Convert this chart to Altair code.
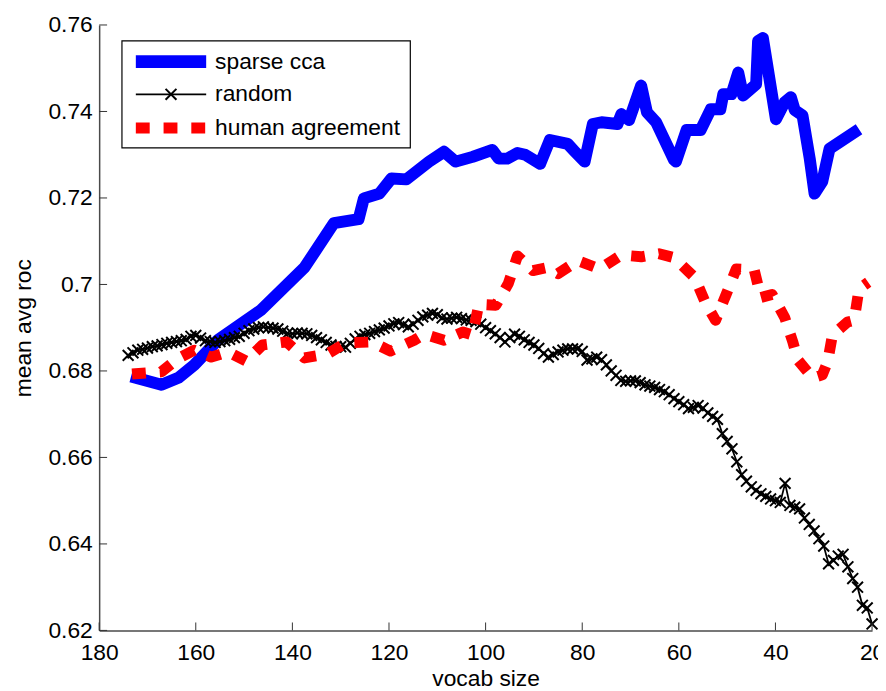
import altair as alt
import pandas as pd

# ---------------- data ----------------
series_names = ["sparse cca", "random", "human agreement"]

sparse_x = [173.4, 167.1, 163.6, 160.3, 155.4, 146.6, 137.5, 131.4, 126.3, 125.2,
            122.0, 119.5, 116.4, 111.7, 108.6, 106.2, 102.7, 98.6, 97.3, 95.5,
            93.4, 91.8, 88.7, 86.7, 83.0, 81.5, 79.5, 77.8, 76.0, 72.7,
            71.9, 70.3, 67.8, 66.6, 64.7, 61.0, 60.6, 58.4, 55.5, 53.4,
            51.4, 50.8, 49.1, 47.7, 46.7, 44.0, 43.6, 42.6, 39.9, 38.1,
            36.8, 36.0, 34.4, 32.9, 31.9, 30.3, 28.8, 22.7]
sparse_y = [0.6787, 0.6768, 0.6784, 0.6814, 0.6872, 0.6940, 0.7039, 0.7142, 0.7151, 0.7199,
            0.7210, 0.7245, 0.7243, 0.7284, 0.7307, 0.7284, 0.7295, 0.7311, 0.7291, 0.7291,
            0.7304, 0.7300, 0.7279, 0.7334, 0.7325, 0.7307, 0.7284, 0.7371, 0.7375, 0.7371,
            0.7394, 0.7380, 0.7460, 0.7398, 0.7375, 0.7288, 0.7284, 0.7357, 0.7357, 0.7405,
            0.7405, 0.7440, 0.7440, 0.7490, 0.7437, 0.7463, 0.7563, 0.7570, 0.7382, 0.7421,
            0.7433, 0.7403, 0.7391, 0.7291, 0.7210, 0.7238, 0.7314, 0.7359]

random_x = list(range(174, 19, -1))
random_y = [0.6836, 0.6842, 0.6848, 0.6850, 0.6853, 0.6856, 0.6858, 0.6861, 0.6864, 0.6866,
            0.6868, 0.6870, 0.6873, 0.6880, 0.6882, 0.6876, 0.6870, 0.6868, 0.6866, 0.6868,
            0.6870, 0.6873, 0.6877, 0.6880, 0.6887, 0.6893, 0.6897, 0.6900, 0.6902, 0.6900,
            0.6899, 0.6897, 0.6892, 0.6887, 0.6886, 0.6888, 0.6887, 0.6886, 0.6882, 0.6877,
            0.6872, 0.6866, 0.6860, 0.6857, 0.6856, 0.6855, 0.6864, 0.6874, 0.6880, 0.6884,
            0.6887, 0.6891, 0.6895, 0.6899, 0.6904, 0.6909, 0.6912, 0.6907, 0.6902, 0.6908,
            0.6917, 0.6925, 0.6929, 0.6933, 0.6930, 0.6923, 0.6920, 0.6922, 0.6924, 0.6921,
            0.6918, 0.6917, 0.6914, 0.6908, 0.6900, 0.6893, 0.6886, 0.6877, 0.6867, 0.6877,
            0.6885, 0.6880, 0.6872, 0.6866, 0.6860, 0.6852, 0.6840, 0.6832, 0.6838, 0.6844,
            0.6848, 0.6851, 0.6851, 0.6851, 0.6845, 0.6825, 0.6828, 0.6832, 0.6826, 0.6814,
            0.6800, 0.6790, 0.6778, 0.6776, 0.6777, 0.6777, 0.6773, 0.6768, 0.6765, 0.6762,
            0.6757, 0.6752, 0.6745, 0.6736, 0.6729, 0.6722, 0.6713, 0.6716, 0.6720, 0.6714,
            0.6703, 0.6695, 0.6688, 0.6655, 0.6637, 0.6620, 0.6590, 0.6560, 0.6545, 0.6532,
            0.6524, 0.6516, 0.6510, 0.6504, 0.6500, 0.6496, 0.6540, 0.6489, 0.6485, 0.6481,
            0.6460, 0.6445, 0.6430, 0.6412, 0.6395, 0.6354, 0.6362, 0.6372, 0.6376, 0.6347,
            0.6320, 0.6300, 0.6258, 0.6252, 0.6215]

human_x = [173.2, 167.1, 163.8, 160.3, 156.8, 153.3, 149.6, 146.2, 141.2, 137.5,
           132.8, 128.9, 123.6, 119.7, 114.8, 112.7, 108.6, 104.7, 102.7, 101.4,
           97.9, 95.3, 93.4, 90.2, 87.3, 85.0, 80.9, 76.4, 71.9, 67.8,
           64.1, 61.0, 56.7, 54.5, 52.4, 50.2, 48.1, 44.4, 43.0, 40.7,
           38.1, 36.4, 35.4, 32.3, 30.3, 29.2, 28.2, 25.1, 23.7, 22.7, 20.8]
human_y = [0.6793, 0.6798, 0.6828, 0.6848, 0.6832, 0.6844, 0.6823, 0.6860, 0.6867, 0.6830,
           0.6839, 0.6865, 0.6867, 0.6846, 0.6871, 0.6885, 0.6871, 0.6890, 0.6883, 0.6954,
           0.6952, 0.7002, 0.7066, 0.7032, 0.7039, 0.7025, 0.7055, 0.7036, 0.7068, 0.7064,
           0.7071, 0.7062, 0.7016, 0.6958, 0.6917, 0.6977, 0.7036, 0.7034, 0.6970, 0.6977,
           0.6924, 0.6867, 0.6826, 0.6784, 0.6791, 0.6821, 0.6883, 0.6913, 0.6917, 0.6990, 0.7005]

x_ticks = [180, 160, 140, 120, 100, 80, 60, 40, 20]
y_ticks = [0.62, 0.64, 0.66, 0.68, 0.70, 0.72, 0.74, 0.76]

x_title = "vocab size"
y_title = "mean avg roc"

# ---------------- tables ----------------
sparse_df = pd.DataFrame({"x": sparse_x, "y": sparse_y, "i": range(len(sparse_x))})
random_df = pd.DataFrame({"x": random_x, "y": random_y, "i": range(len(random_x))})
human_df = pd.DataFrame({"x": human_x, "y": human_y, "i": range(len(human_x))})
xt_df = pd.DataFrame({"v": x_ticks})
yt_df = pd.DataFrame({"v": y_ticks})

FONT = "Liberation Sans"
W, H = 780, 611
XMARK = "M-1,-1L1,1M-1,1L1,-1"

xs = alt.Scale(domain=[20, 180], reverse=True, nice=False, zero=False)
ys = alt.Scale(domain=[0.62, 0.76], nice=False, zero=False)

x_axis = alt.Axis(values=x_ticks, format="d", tickSize=0, labelPadding=11,
                  title=x_title, titlePadding=4, grid=False,
                  domainColor="#4a4a4a", domainWidth=1.5,
                  labelFont=FONT, labelFontSize=23, labelColor="#000000",
                  titleFont=FONT, titleFontSize=23, titleFontWeight="normal",
                  titleColor="#000000", labelFlush=False, labelOverlap=False)
y_axis = alt.Axis(values=y_ticks, format="~g", tickSize=0, labelPadding=7,
                  title=y_title, titlePadding=13, grid=False,
                  domainColor="#4a4a4a", domainWidth=1.5,
                  labelFont=FONT, labelFontSize=23, labelColor="#000000",
                  titleFont=FONT, titleFontSize=23, titleFontWeight="normal",
                  titleColor="#000000", labelFlush=False, labelOverlap=False)

blue = alt.Chart(sparse_df).mark_line(
    color="#0000ff", strokeWidth=12, strokeJoin="round", strokeCap="butt"
).encode(
    x=alt.X("x:Q", scale=xs, axis=x_axis),
    y=alt.Y("y:Q", scale=ys, axis=y_axis),
    order="i:Q",
)

black_line = alt.Chart(random_df).mark_line(color="#000000", strokeWidth=1.8).encode(
    x=alt.X("x:Q", scale=xs), y=alt.Y("y:Q", scale=ys), order="i:Q"
)
black_pts = alt.Chart(random_df).mark_point(
    shape=XMARK, size=120, filled=False, stroke="#000000", strokeWidth=2, opacity=1
).encode(x=alt.X("x:Q", scale=xs), y=alt.Y("y:Q", scale=ys))

red = alt.Chart(human_df).mark_line(
    color="#ff0000", strokeWidth=11, strokeDash=[14, 14], strokeJoin="round", strokeCap="butt"
).encode(x=alt.X("x:Q", scale=xs), y=alt.Y("y:Q", scale=ys), order="i:Q")

# inward ticks (MATLAB style)
xticks = alt.Chart(xt_df).mark_rule(color="#333333", strokeWidth=1).encode(
    x=alt.X("v:Q", scale=xs), y=alt.value(H), y2=alt.value(H - 8)
)
yticks = alt.Chart(yt_df).mark_rule(color="#333333", strokeWidth=1).encode(
    y=alt.Y("v:Q", scale=ys), x=alt.value(0), x2=alt.value(8)
)

# legend box
one = pd.DataFrame({"k": [0]})
leg_box = alt.Chart(one).mark_rect(fill="#ffffff", stroke="#000000", strokeWidth=1.2).encode(
    x=alt.value(23), x2=alt.value(314), y=alt.value(16), y2=alt.value(124)
)
leg_blue = alt.Chart(one).mark_rule(color="#0000ff", strokeWidth=13, strokeCap="butt").encode(
    x=alt.value(37), x2=alt.value(108), y=alt.value(37)
)
leg_black = alt.Chart(one).mark_rule(color="#000000", strokeWidth=1.8).encode(
    x=alt.value(37), x2=alt.value(108), y=alt.value(70)
)
leg_black_pt = alt.Chart(one).mark_point(
    shape=XMARK, size=120, filled=False, stroke="#000000", strokeWidth=2, opacity=1
).encode(x=alt.value(72.5), y=alt.value(70))
leg_red = alt.Chart(one).mark_rule(color="#ff0000", strokeWidth=11, strokeDash=[14, 14],
                                   strokeCap="butt").encode(
    x=alt.value(37), x2=alt.value(108), y=alt.value(104)
)
leg_texts = []
for name, yy in zip(series_names, [37, 70, 104]):
    leg_texts.append(
        alt.Chart(pd.DataFrame({"label": [name]})).mark_text(
            align="left", baseline="middle", font=FONT, fontSize=23, color="#000000"
        ).encode(text="label:N", x=alt.value(117), y=alt.value(yy))
    )

chart = alt.layer(
    blue, black_line, black_pts, red, xticks, yticks,
    leg_box, leg_blue, leg_black, leg_black_pt, leg_red, *leg_texts
).properties(
    width=W, height=H,
    autosize=alt.AutoSizeParams(type="none"),
    padding={"left": 92, "top": 14, "right": 6, "bottom": 58},
    background="#ffffff",
).configure_view(stroke=None)

chart.save("out.html", embed_options={"renderer": "svg", "actions": False})
